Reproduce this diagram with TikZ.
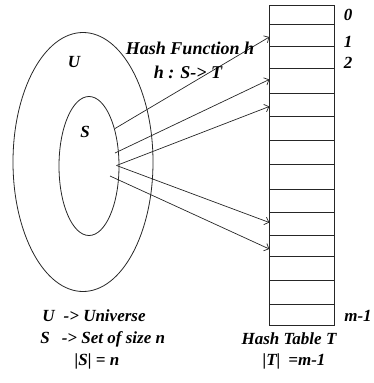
\documentclass[tikz,border=0pt]{standalone}
\usepackage{fontspec}
\setmainfont{Liberation Serif}
\usetikzlibrary{arrows.meta,shapes.geometric}
\begin{document}
\begin{tikzpicture}[x=1pt,y=-1pt,
  line width=0.8pt,
  cell/.style={draw=black!85, rectangle, minimum width=65pt, anchor=north west, inner sep=0pt, outer sep=0pt},
  lbl/.style={font=\fontsize{17}{19}\selectfont\bfseries\itshape, inner sep=0pt},
  big/.style={font=\fontsize{18}{20}\selectfont\bfseries\itshape, inner sep=0pt},
  leg/.style={font=\fontsize{17}{19}\selectfont\bfseries\itshape, inner sep=0pt},
  arr/.style={draw=black!85, line width=0.7pt, -{Straight Barb[length=4pt,width=8pt]}}]
\useasboundingbox (0,0) rectangle (373,383);
% sets
\node[draw=black!85, ellipse, minimum width=140pt, minimum height=259pt, inner sep=0pt] (U) at (83,162) {};
\node[draw=black!85, ellipse, minimum width=60pt, minimum height=139pt, inner sep=0pt] (S) at (89,166) {};
\node[lbl] (Ul) at (74,62) {U};
\node[lbl] (Sl) at (85,132) {S};
% table rows
\node[cell, minimum height=18.7pt] (r0) at (269.3,5.3) {};
\node[cell, minimum height=22.7pt] (r1) at (269.3,24) {};
\node[cell, minimum height=21.6pt] (r2) at (269.3,46.7) {};
\node[cell, minimum height=25pt] (r3) at (269.3,68.3) {};
\node[cell, minimum height=22.7pt] (r4) at (269.3,93.3) {};
\node[cell, minimum height=24.7pt] (r5) at (269.3,116) {};
\node[cell, minimum height=24pt] (r6) at (269.3,140.7) {};
\node[cell, minimum height=24.6pt] (r7) at (269.3,164.7) {};
\node[cell, minimum height=23.4pt] (r8) at (269.3,189.3) {};
\node[cell, minimum height=22.3pt] (r9) at (269.3,212.7) {};
\node[cell, minimum height=21.7pt] (r10) at (269.3,235) {};
\node[cell, minimum height=23.3pt] (r11) at (269.3,256.7) {};
\node[cell, minimum height=24pt] (r12) at (269.3,280) {};
\node[cell, minimum height=21.7pt] (r13) at (269.3,304) {};
% index labels
\node[lbl] (i0) at (348,15) {0};
\node[lbl] (i1) at (348,42) {1};
\node[lbl] (i2) at (348,63) {2};
\node[lbl] (im) at (358,316) {m-1};
% arrows
\coordinate (s1) at (115,128.5);
\coordinate (s2) at (115,153);
\coordinate (s3) at (116.5,165.5);
\coordinate (s5) at (110,176);
\coordinate (t1) at (r1.west |- 0,37);
\coordinate (t3) at (r3.west |- 0,79.5);
\coordinate (t4) at (r4.west |- 0,106.5);
\coordinate (t9) at (r9.west |- 0,222.5);
\coordinate (t10) at (r10.west |- 0,249);
\draw[arr] (s1) -- (t1);
\draw[arr] (s2) -- (t3);
\draw[arr] (s3) -- (t4);
\draw[arr] (s3) -- (t9);
\draw[arr] (s5) -- (t10);
% hash function labels
\node[big] (hf) at (190,48) {Hash Function h};
\node[big] (hm) at (188,72) {h : S-> T};
% legend
\node[leg, anchor=west] (l1) at (42,316) {U\hspace{9pt}-> Universe};
\node[leg, anchor=west] (l2) at (40,339) {S\hspace{12pt}-> Set of size n};
\node[leg] (l3) at (97,361) {|S| = n};
\node[leg] (l4) at (289,339) {Hash Table T};
\node[leg] (l5) at (294,361) {|T|\hspace{8pt}=m-1};
\end{tikzpicture}
\end{document}
